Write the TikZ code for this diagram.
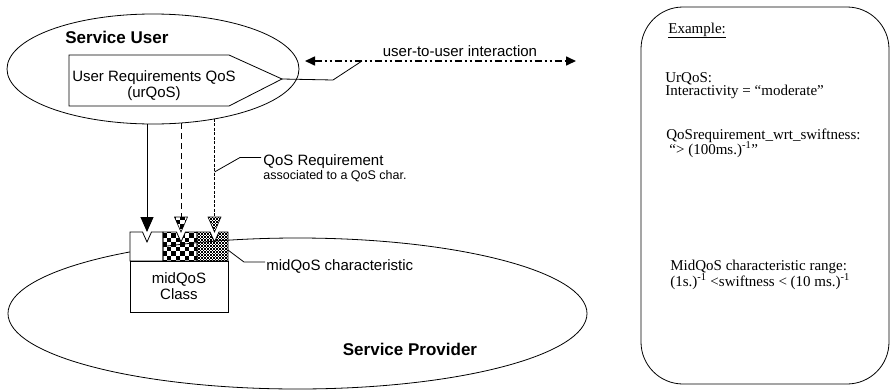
\documentclass[tikz,border=0pt]{standalone}
\usepackage{fontspec}
\setmainfont{Liberation Serif}
\setsansfont{Liberation Sans}
\usetikzlibrary{arrows.meta,shapes.geometric,patterns.meta,calc}

% coarse black/white checkerboard
\tikzdeclarepattern{
  name=coarsecheck,
  type=uncolored,
  bottom left={(-.1pt,-.1pt)},
  top right={(9.1pt,9.1pt)},
  tile size={(9pt,9pt)},
  code={
    \fill (0pt,0pt) rectangle (4.5pt,4.5pt);
    \fill (4.5pt,4.5pt) rectangle (9pt,9pt);
  }
}
% fine checkerboard
\tikzdeclarepattern{
  name=finecheck,
  type=uncolored,
  bottom left={(-.1pt,-.1pt)},
  top right={(3.1pt,3.1pt)},
  tile size={(3pt,3pt)},
  code={
    \fill (0pt,0pt) rectangle (1.5pt,1.5pt);
    \fill (1.5pt,1.5pt) rectangle (3pt,3pt);
  }
}

\begin{document}
\begin{tikzpicture}[x=1pt,y=-1pt,line width=0.8pt,
  lbl/.style={font=\sffamily\fontsize{15}{16}\selectfont,inner sep=0pt},
  small/.style={font=\sffamily\fontsize{12.5}{14}\selectfont,inner sep=0pt},
  title/.style={font=\sffamily\bfseries\fontsize{17}{20}\selectfont,inner sep=0pt},
  note/.style={font=\fontsize{15}{16}\selectfont,inner sep=0pt,anchor=base west},
  region/.style={draw,ellipse,inner sep=0pt,outer sep=0pt},
  dashdotdot/.style={dash pattern=on 7pt off 3pt on 2pt off 3pt on 2pt off 3pt},
  head/.style={draw,line width=0.6pt},
  tip/.style={-{Triangle[length=15pt,width=13pt]}}
]
\useasboundingbox (0,0) rectangle (891,391);

% the two regions
\node[region,minimum width=292pt,minimum height=110pt] (su) at (153,69) {};
\node[region,minimum width=579pt,minimum height=151pt] (sp) at (297.5,313.5) {};
\node[title,anchor=base west] (sut) at (65,43) {Service User};
\node[title,anchor=base] (spt) at (410,355) {Service Provider};

% user requirements (pentagon pointing right)
\draw (69,55) -- (229,55) -- (282,79) coordinate (urtip) -- (229,106) -- (69,106) -- cycle;
\node[lbl,align=center] (ur) at (154,86) {User Requirements QoS\\(urQoS)};

% user-to-user interaction
\coordinate (il) at (305,61);
\coordinate (ir) at (576,61);
\coordinate (ia) at (362,61);
\draw[dashdotdot,line width=1.6pt,{Triangle[length=10pt,width=9pt]}-{Triangle[length=10pt,width=9pt]}] (il) -- (ir);
\node[lbl,anchor=base] (uit) at (460,56) {user-to-user interaction};
\draw (urtip) -- (333,80) -- (ia);

% midQoS class block
\coordinate (n1) at (147,232);
\coordinate (n2) at (181,232);
\coordinate (n3) at (214.5,232);
\draw[fill=white] (130,232) -- (142.5,232) -- (147,242) -- (151.5,232) -- (163,232)
  -- (163,261) -- (130,261) -- cycle;
\draw[pattern=coarsecheck] (163,232) -- (176.5,232) -- (181,242) -- (185.5,232) -- (197,232)
  -- (197,261) -- (163,261) -- cycle;
\draw[pattern=finecheck] (197,232) -- (210,232) -- (214.5,242) -- (219,232) -- (228,232)
  -- (228,261) -- (197,261) -- cycle;
\node[lbl,draw,fill=white,minimum width=98pt,minimum height=51pt,align=center] (mc) at (179,286.5) {midQoS\\Class};

% requirement arrows
\coordinate (s1) at (147,123.9);
\coordinate (s2) at (181,123);
\coordinate (s3) at (214.5,118.9);
\draw[tip,line width=1pt] (s1) -- (n1);
\draw[dash pattern=on 6pt off 4pt] (s2) -- ($(n2)+(0,-15)$);
\draw[dash pattern=on 3pt off 1.5pt] (s3) -- ($(n3)+(0,-15)$);
\draw[head,pattern=coarsecheck] ($(n2)+(-6.5,-15)$) -- ($(n2)+(6.5,-15)$) -- (n2) -- cycle;
\draw[head,pattern=finecheck] ($(n3)+(-6.5,-15)$) -- ($(n3)+(6.5,-15)$) -- (n3) -- cycle;

% labels with leader lines
\node[lbl,anchor=base west] (qr) at (263,165) {QoS Requirement};
\node[small,anchor=base west] (qra) at (263,179) {associated to a QoS char.};
\coordinate (q3) at (214.5,172);
\draw (q3) -- (240,157.5) -- ($(qr.base west)+(-2,-7.5)$);
\node[lbl,anchor=base west] (mch) at (266,270) {midQoS characteristic};
\coordinate (c3) at (228,250);
\draw (c3) -- (244,262) -- ($(mch.base west)+(-1,-8)$);

% example panel
\node[draw,rounded corners=42pt,minimum width=248pt,minimum height=377pt,inner sep=0pt] (ex) at (765,195.5) {};
\node[note] (e0) at (668,33) {\underline{Example:}};
\node[note] (e1) at (665,82) {UrQoS:};
\node[note] (e2) at (665,95.5) {Interactivity = “moderate”};
\node[note] (e3) at (666,139) {QoSrequirement\_wrt\_swiftness:};
\node[note] (e4) at (669,154) {“> (100ms.)\textsuperscript{-1}”};
\node[note] (e5) at (670,270) {MidQoS characteristic range:};
\node[note] (e6) at (670,286) {(1s.)\textsuperscript{-1} <swiftness < (10 ms.)\textsuperscript{-1}};
\end{tikzpicture}
\end{document}
